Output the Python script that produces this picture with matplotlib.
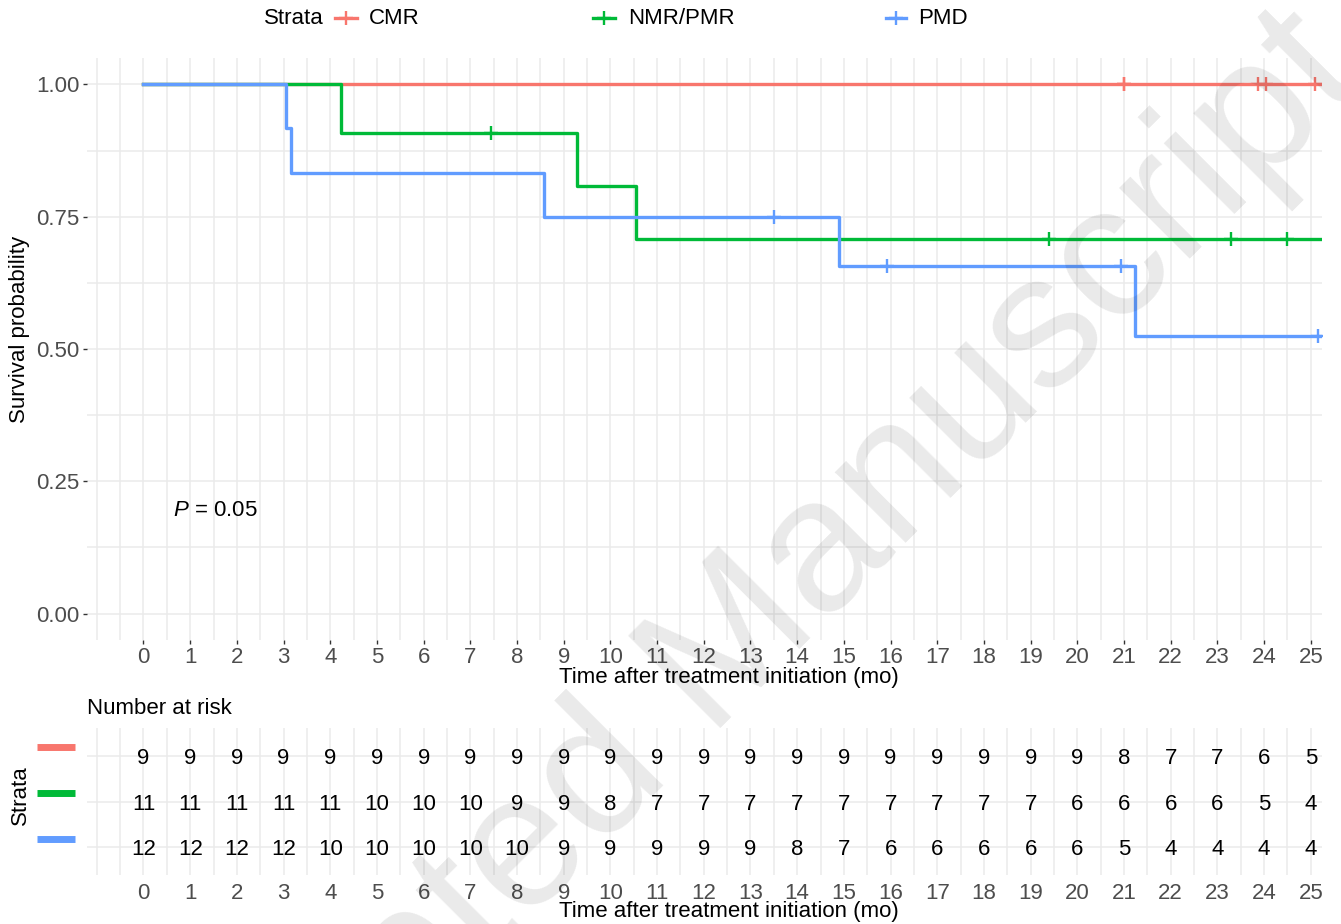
import matplotlib
matplotlib.use("Agg")
import matplotlib.pyplot as plt
from matplotlib.lines import Line2D
from matplotlib.ticker import FixedLocator, MultipleLocator
import numpy as np

plt.rcParams['font.family'] = ['Liberation Sans', 'DejaVu Sans']
plt.rcParams['mathtext.fontset'] = 'custom'
plt.rcParams['mathtext.rm'] = 'Liberation Sans'
plt.rcParams['mathtext.it'] = 'Liberation Sans:italic'

strata = ['CMR', 'NMR/PMR', 'PMD']
palette = ['#F8766D', '#00BA38', '#619CFF']

# KM steps: time of each drop (mo) and survival after it
cmr_times = [0.0]
cmr_surv = [1.0]
nmr_times = [0.0, 4.22, 9.28, 10.55]
nmr_surv = [1.0, 0.909, 0.808, 0.707]
pmd_times = [0.0, 3.05, 3.15, 8.58, 14.90, 21.23]
pmd_surv = [1.0, 0.917, 0.833, 0.750, 0.656, 0.525]

# censored patients (mo)
cmr_censor = [21.0, 21.0, 23.88, 24.03, 25.08]
nmr_censor = [7.45, 19.40, 23.30, 24.50]
pmd_censor = [13.50, 15.93, 20.93, 25.15]

risk_times = [0, 1, 2, 3, 4, 5, 6, 7, 8, 9, 10, 11, 12, 13, 14, 15, 16, 17, 18, 19, 20, 21, 22, 23, 24, 25]
cmr_risk = [9, 9, 9, 9, 9, 9, 9, 9, 9, 9, 9, 9, 9, 9, 9, 9, 9, 9, 9, 9, 9, 8, 7, 7, 6, 5]
nmr_risk = [11, 11, 11, 11, 11, 10, 10, 10, 9, 9, 8, 7, 7, 7, 7, 7, 7, 7, 7, 7, 6, 6, 6, 6, 5, 4]
pmd_risk = [12, 12, 12, 12, 10, 10, 10, 10, 10, 9, 9, 9, 9, 9, 8, 7, 6, 6, 6, 6, 6, 5, 4, 4, 4, 4]

follow_up_end = 25.5
p_value = 0.05

W, H = 1341, 924
GRID = '#EBEBEB'
fig = plt.figure(figsize=(W / 100, H / 100), dpi=100)


def px_box(left, top, right, bottom):
    return [left / W, 1 - bottom / H, (right - left) / W, (bottom - top) / H]


def fx(x):
    return x / W


def fy(y):
    return 1 - y / H


def style_time_axis(a):
    for s in a.spines.values():
        s.set_visible(False)
    a.set_xlim(-1.21, 25.24)
    a.xaxis.set_major_locator(FixedLocator(risk_times))
    a.xaxis.set_minor_locator(MultipleLocator(0.5))
    a.grid(which='both', axis='x', color=GRID, lw=1.1)
    a.set_axisbelow(True)
    a.tick_params(which='minor', length=0)
    a.tick_params(which='major', labelsize=16, labelcolor='#4D4D4D',
                  color='#333333', width=1.0)


# survival curves
ax = fig.add_axes(px_box(87, 58, 1322, 640))
style_time_axis(ax)
ax.set_ylim(-0.05, 1.05)
ax.set_yticks([0, 0.25, 0.5, 0.75, 1.0])
ax.set_yticklabels(['0.00', '0.25', '0.50', '0.75', '1.00'])
ax.yaxis.set_minor_locator(MultipleLocator(0.125))
ax.grid(which='both', axis='y', color=GRID, lw=1.1)
ax.tick_params(axis='x', which='major', length=3, pad=2)
ax.tick_params(axis='y', which='major', length=3, pad=2.5)

groups = [(cmr_times, cmr_surv, cmr_censor),
          (nmr_times, nmr_surv, nmr_censor),
          (pmd_times, pmd_surv, pmd_censor)]
for (t, s, c), col in zip(groups, palette):
    ax.step(t + [follow_up_end], s + [s[-1]], where='post', color=col, lw=2.4)
    idx = np.searchsorted(t, c, side='right') - 1
    ax.plot(c, np.array(s)[idx], ls='none', marker='+', ms=10, mew=1.7, color=col)

ax.text(0.64, 0.2, r'$P$ = %.2f' % p_value, fontsize=16, ha='left', va='center_baseline')

# risk table
rax = fig.add_axes(px_box(87, 728, 1322, 875))
style_time_axis(rax)
rax.set_ylim(0.4, 3.6)
rax.set_yticks([1, 2, 3])
rax.set_yticklabels([])
rax.tick_params(axis='y', length=0)
rax.grid(which='major', axis='y', color=GRID, lw=1.1)
rax.tick_params(axis='x', which='major', length=0, pad=6)
for row, counts in zip([3, 2, 1], [cmr_risk, nmr_risk, pmd_risk]):
    for t, n in zip(risk_times, counts):
        rax.text(t, row, str(n), ha='center', va='center_baseline', fontsize=16, color='black')

for y, col in zip([747, 793, 839], palette):
    fig.add_artist(Line2D([fx(37), fx(75)], [fy(y), fy(y)], color=col, lw=5,
                          solid_capstyle='butt'))

# labels
fig.text(fx(729), fy(677), 'Time after treatment initiation (mo)', ha='center', va='center', fontsize=16)
fig.text(fx(729), fy(911), 'Time after treatment initiation (mo)', ha='center', va='center', fontsize=16)
fig.text(fx(20), fy(329), 'Survival probability', rotation=90, ha='center', va='center', fontsize=16)
fig.text(fx(20), fy(795), 'Strata', rotation=90, ha='center', va='center', fontsize=16)
fig.text(fx(87), fy(709), 'Number at risk', ha='left', va='center', fontsize=16)

# legend across the top
fig.text(fx(264), fy(19), 'Strata', ha='left', va='center', fontsize=16)
for (k0, k1, tx), name, col in zip([(335, 357, 369), (593, 615, 628), (886, 906, 918)], strata, palette):
    fig.add_artist(Line2D([fx(k0), fx(k1)], [fy(18), fy(18)], color=col, lw=2.4))
    fig.add_artist(Line2D([fx((k0 + k1) / 2)], [fy(18)], color=col, marker='+', ms=10, mew=1.7))
    fig.text(fx(tx), fy(19), name, ha='left', va='center', fontsize=16)

fig.text(fx(1368), fy(80), 'Accepted Manuscript', rotation=45, rotation_mode='anchor',
         ha='right', va='baseline', fontsize=137, color='black', alpha=0.085, zorder=10)

fig.savefig('out.png', dpi=100)
